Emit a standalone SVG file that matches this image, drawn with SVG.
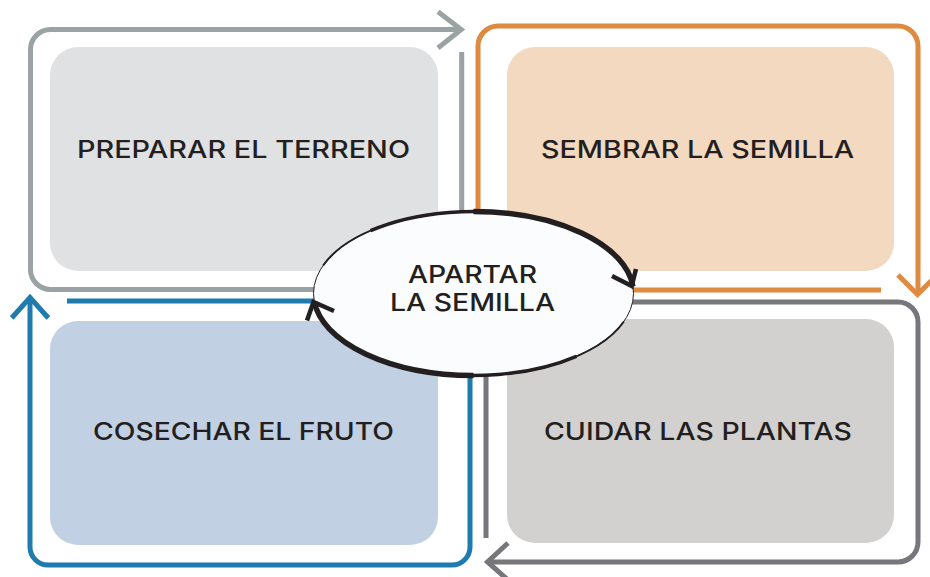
<svg xmlns="http://www.w3.org/2000/svg" width="930" height="577" viewBox="0 0 930 577">
  <style>
    .lbl { font-family: Inter, "Noto Sans", "Liberation Sans", sans-serif; font-size: 24.5px; font-weight: 500; fill: #231f20; text-anchor: middle; }
    .loop { fill: none; stroke-width: 5; stroke-linejoin: miter; stroke-linecap: butt; }
    .arc { fill: none; stroke: #231f20; stroke-linecap: butt; }
  </style>
  <rect width="930" height="577" fill="#ffffff"/>

  <g id="node-preparar">
    <rect x="50" y="47" width="388" height="224" rx="28" fill="#e0e1e3"/>
    <text class="lbl" x="243.5" y="158" textLength="333" lengthAdjust="spacingAndGlyphs">PREPARAR EL TERRENO</text>
  </g>
  <g id="node-sembrar">
    <rect x="507" y="47" width="387" height="224" rx="28" fill="#f3d9bf"/>
    <text class="lbl" x="697.5" y="158" textLength="313" lengthAdjust="spacingAndGlyphs">SEMBRAR LA SEMILLA</text>
  </g>
  <g id="node-cosechar">
    <rect x="50" y="321" width="388" height="224" rx="28" fill="#c1d0e2"/>
    <text class="lbl" x="243.5" y="440" textLength="301" lengthAdjust="spacingAndGlyphs">COSECHAR EL FRUTO</text>
  </g>
  <g id="node-cuidar">
    <rect x="507" y="319" width="387" height="224" rx="28" fill="#d2d1cf"/>
    <text class="lbl" x="698" y="440" textLength="308" lengthAdjust="spacingAndGlyphs">CUIDAR LAS PLANTAS</text>
  </g>

  <g id="connectors">
    <!-- gray loop (top-left) -->
    <path class="loop" stroke="#9ba2a3" d="M 461.7 52 V 289.5 H 50.5 A 20 20 0 0 1 30.5 269.5 V 49.5 A 20 20 0 0 1 50.5 29.5 H 460"/>
    <path class="loop" stroke="#9ba2a3" d="M 438 11.7 L 461.2 29.5 L 438 48"/>
    <!-- orange loop (top-right) -->
    <path class="loop" stroke="#de8a40" d="M 478 290 V 46 A 20 20 0 0 1 498 26 H 898 A 20 20 0 0 1 918 46 V 293"/>
    <path class="loop" stroke="#de8a40" d="M 898 275 L 917.5 294.5 L 937 275"/>
    <path class="loop" stroke="#de8a40" d="M 632 290 H 881"/>
    <!-- dark gray loop (bottom-right) -->
    <path class="loop" stroke="#77777b" d="M 486 538 V 302 H 898 A 20 20 0 0 1 918 322 V 542 A 20 20 0 0 1 898 562 H 488"/>
    <path class="loop" stroke="#77777b" d="M 508 543 L 487.5 562 L 508 580"/>
    <!-- blue loop (bottom-left) -->
    <path class="loop" stroke="#1f7aad" d="M 470 301 V 547 A 18 18 0 0 1 452 565 H 48 A 18 18 0 0 1 30 547 V 298"/>
    <path class="loop" stroke="#1f7aad" d="M 11.7 318 L 30 297.5 L 48.3 318"/>
    <path class="loop" stroke="#1f7aad" d="M 67 301 H 320"/>
  </g>

  <g id="node-apartar">
    <ellipse cx="473.5" cy="293.5" rx="160" ry="82" fill="#fbfcfe" stroke="#231f20" stroke-width="1"/>
    <!-- top arc thickening toward the right -->
    <path class="arc" stroke-width="2" d="M 323.1 265.5 A 160 82 0 0 1 632.9 286.4"/>
    <path class="arc" stroke-width="3.5" d="M 370.6 230.7 A 160 82 0 0 1 632.9 286.4"/>
    <path class="arc" stroke-width="5.5" d="M 473.5 211.5 A 160 82 0 0 1 632.9 286.4"/>
    <path class="arc" stroke-width="4.5" stroke-linejoin="miter" d="M 612 276 L 631.7 286 L 636 269"/>
    <!-- bottom arc thickening toward the left -->
    <path class="arc" stroke-width="2" d="M 623.9 321.5 A 160 82 0 0 1 314.3 301.6"/>
    <path class="arc" stroke-width="3.5" d="M 576.4 356.3 A 160 82 0 0 1 314.3 301.6"/>
    <path class="arc" stroke-width="5.5" d="M 473.5 375.5 A 160 82 0 0 1 314.3 301.6"/>
    <path class="arc" stroke-width="4.5" stroke-linejoin="miter" d="M 307 320.5 L 313.5 302 L 334 311"/>
    <text class="lbl" x="472.5" y="283.3" textLength="129" lengthAdjust="spacingAndGlyphs">APARTAR</text>
    <text class="lbl" x="472.5" y="311" textLength="165" lengthAdjust="spacingAndGlyphs">LA SEMILLA</text>
  </g>
</svg>
